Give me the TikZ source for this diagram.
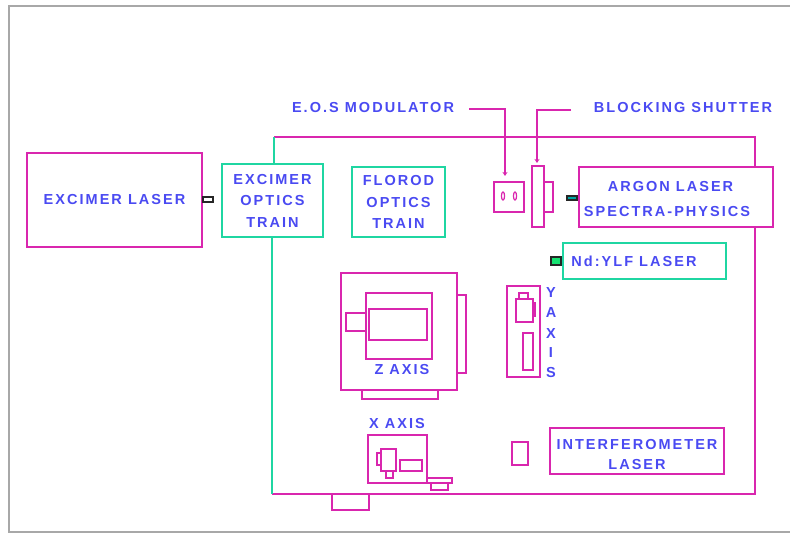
\documentclass[tikz,border=0pt]{standalone}
\usepackage{fontspec}
\setmainfont[LetterSpace=14]{Liberation Sans}
\usetikzlibrary{arrows.meta, calc}
\definecolor{pinkcol}{HTML}{D926AE}
\definecolor{greencol}{HTML}{1FD6A2}
\definecolor{bluecol}{HTML}{4A4AF2}
\definecolor{framecol}{HTML}{A8A8A8}
\begin{document}
\begin{tikzpicture}[
  x=1pt, y=-1pt,
  every node/.style={font=\fontsize{14.5}{21.5}\selectfont\bfseries, text=bluecol, align=center, inner sep=0pt},
  pinkbox/.style={draw=pinkcol, line width=1.5pt},
  greenbox/.style={draw=greencol, line width=1.5pt},
  part/.style={draw=pinkcol, line width=1.2pt},
  lead/.style={-{Stealth[length=4pt,width=5pt]}, draw=pinkcol, line width=1.2pt},
  port/.style={draw=black!85, line width=2.2pt, minimum width=10pt, minimum height=5pt}
]
\useasboundingbox (0,0) rectangle (790,534);
% outer frame
\draw[framecol, line width=2pt] (790,6) -- (9,6) -- (9,532) -- (790,532);

% table outline
\coordinate (tabTL) at (274,137);
\coordinate (tabTR) at (755,137);
\coordinate (tabBR) at (755,494);
\coordinate (tabBL) at (272,494);
\draw[pinkbox] (tabTL) -- (tabTR) -- (tabBR) -- (tabBL);
\draw[greenbox] (tabTL) -- (274,164);
\draw[greenbox] (272,237) -- (tabBL);

% lasers and optics
\node[pinkbox, minimum width=175pt, minimum height=94pt, fill=white] (excimer) at (114.5,200) {EXCIMER LASER};
\node[greenbox, minimum width=101pt, minimum height=73pt, fill=white] (excopt) at (272.5,200.5) {EXCIMER\\OPTICS\\TRAIN};
\node[greenbox, minimum width=93pt, minimum height=70pt] (florod) at (398.5,202) {FLOROD\\OPTICS\\TRAIN};
\node[pinkbox, minimum width=194pt, minimum height=60pt, fill=white] (argon) at (676,197) {};
\node (arglbl) at (667,199.5) {\hspace*{7pt}ARGON LASER\\[3.5pt]SPECTRA-PHYSICS};
\node[greenbox, minimum width=163pt, minimum height=36pt] (ndylf) at (644.5,261) {};
\node (ndlbl) at (634,261) {Nd:YLF LASER};
\node[pinkbox, minimum width=174pt, minimum height=46pt] (interf) at (637,451) {};
\node (interlbl) at (637,454.5) {INTERFEROMETER\\[-2pt]LASER};

% ports
\node[port] (excport) at (208,199.5) {};
\node[port, fill=teal!70!cyan, minimum height=4pt] (argport) at (572,198) {};
\node[port, fill=greencol!70!green, minimum height=8pt] (ndport) at (556,261) {};

% modulator and shutter
\node[pinkbox, minimum width=30pt, minimum height=30pt] (modul) at (509,197) {};
\draw[part] (503,196) ellipse (1.6pt and 4pt);
\draw[part] (515,196) ellipse (1.6pt and 4pt);
\draw[part] (544,182) rectangle (553,212);
\node[pinkbox, minimum width=12pt, minimum height=61pt] (shutter) at (538,196.5) {};

% leaders
\node (eoslbl) at (373,108) {E.O.S MODULATOR};
\node (blocklbl) at (683,108) {BLOCKING SHUTTER};
\coordinate (eosstart) at (469,109);
\coordinate (eosend) at (505,176);
\coordinate (blockstart) at (571,110);
\coordinate (blockend) at (537,163);
\draw[lead] (eosstart) -| (eosend);
\draw[lead] (blockstart) -| (blockend);

% z axis
\draw[part] (457,295) rectangle (466,373);
\draw[part] (362,390) rectangle (438,399);
\node[pinkbox, minimum width=116pt, minimum height=117pt] (zstage) at (399,331.5) {};
\draw[part] (366,293) rectangle (432,359);
\draw[part] (369,309) rectangle (427,340);
\draw[pinkcol, line width=2.4pt] (369,309) -- (369,340);
\draw[part] (346,313) rectangle (366,331);
\node (zlbl) at (402,370) {Z AXIS};

% y axis
\node[pinkbox, minimum width=33pt, minimum height=91pt] (ystage) at (523.5,331.5) {};
\draw[part] (519,293) rectangle (528,299);
\draw[part] (516,299) rectangle (533,322);
\draw[part] (533,303) rectangle (535,316);
\draw[part] (523,333) rectangle (533,370);
\foreach \c/\yy in {Y/293, A/313, X/334, I/353, S/373}
  \node (ylbl\c) at (551,\yy) {\c};

% x axis
\node (xlbl) at (397,424) {X AXIS};
\node[pinkbox, minimum width=59pt, minimum height=48pt] (xstage) at (397.5,459) {};
\draw[part] (377,453) rectangle (381,465);
\draw[part] (381,449) rectangle (396,471);
\draw[part] (386,471) rectangle (393,478);
\draw[part] (400,460) rectangle (422,471);
\draw[part] (427,478) rectangle (452,483);
\draw[part] (431,483) rectangle (448,490);

% odds and ends
\draw[part] (512,442) rectangle (528,465);
\draw[part] (332,494) rectangle (369,510);
\end{tikzpicture}
\end{document}
